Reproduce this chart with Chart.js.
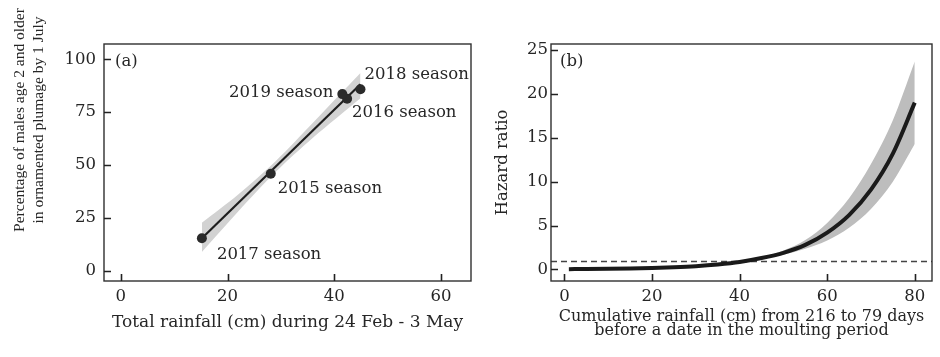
<!DOCTYPE html>
<html>
<head>
<meta charset="utf-8">
<title>Rainfall and ornamented plumage</title>
<script src="https://cdn.jsdelivr.net/npm/chart.js@4/dist/chart.umd.min.js"></script>
<style>
  html, body { margin: 0; padding: 0; background: #ffffff; }
  #wrap { position: relative; width: 940px; height: 357px; overflow: hidden; }
  #chartA { position: absolute; left: 0; top: 0; }
  #chartB { position: absolute; left: 480px; top: 0; }
</style>
</head>
<body>
<div id="wrap">
  <canvas id="chartA" width="500" height="357"></canvas>
  <canvas id="chartB" width="460" height="357"></canvas>
</div>
<script>
// ---- Panel (a): season rainfall vs. percentage of males in ornamented plumage ----
const seasonLabels     = ['2015 season', '2016 season', '2017 season', '2018 season', '2019 season'];
const seasonRainfall   = [28.1, 42.4, 15.2, 44.9, 41.5];
const seasonOrnamented = [45.8, 81.3, 15.3, 85.8, 83.5];

// fitted regression line and its confidence band
const fitRainfall   = [15.2, 44.9];
const fitOrnamented = [15.3, 88.2];
const bandRainfall  = [15.2, 22, 29, 36, 44.9];
const bandUpper     = [22.6, 36.0, 51.8, 70.0, 93.5];
const bandLower     = [8.8, 28.0, 46.6, 62.8, 81.5];

const ticksAx = [0, 20, 40, 60];
const ticksAy = [0, 25, 50, 75, 100];

// ---- Panel (b): hazard ratio vs. cumulative rainfall ----
const cumRainfall = [1, 5, 10, 15, 20, 25, 30, 35, 40, 45, 50, 55, 60, 65, 70, 75, 80];
const hazardRatio = [0.04, 0.05, 0.08, 0.12, 0.18, 0.26, 0.38, 0.57, 0.85, 1.3, 1.9, 2.8, 4.2, 6.2, 9.1, 13.2, 19.0];
const hazardUpper = [0.05, 0.06, 0.09, 0.13, 0.20, 0.28, 0.40, 0.60, 0.88, 1.38, 2.15, 3.35, 5.3, 8.1, 12.0, 17.0, 23.7];
const hazardLower = [0.03, 0.04, 0.07, 0.11, 0.16, 0.24, 0.36, 0.54, 0.82, 1.22, 1.68, 2.35, 3.3, 4.75, 6.9, 10.0, 14.3];
const referenceHR = 1;

const ticksBx = [0, 20, 40, 60, 80];
const ticksBy = [0, 5, 10, 15, 20, 25];

// ---- styling ----
const SERIF = '"DejaVu Serif", serif';
const INK = '#262626';
const tickFont = { family: SERIF, size: 16.5 };

const pts = (xs, ys) => xs.map((x, i) => ({ x, y: ys[i] }));

// season label placement relative to its point, in pixels
const seasonLabelOffset = {
  '2015 season': { dx: 7,  dy: 15,  align: 'left' },
  '2016 season': { dx: 5,  dy: 14,  align: 'left' },
  '2017 season': { dx: 15, dy: 16,  align: 'left' },
  '2018 season': { dx: 4,  dy: -15, align: 'left' },
  '2019 season': { dx: -9, dy: -1,  align: 'right' }
};

// frame around the plot area and inward tick marks
function framePlugin(id, xTicks, yTicks) {
  return {
    id,
    afterDraw(chart) {
      const { ctx, chartArea: a, scales } = chart;
      ctx.save();
      ctx.strokeStyle = '#303030';
      ctx.lineWidth = 1.4;
      ctx.strokeRect(a.left, a.top, a.right - a.left, a.bottom - a.top);
      ctx.lineWidth = 1.6;
      ctx.strokeStyle = '#222';
      ctx.beginPath();
      xTicks.forEach(v => {
        const px = Math.round(scales.x.getPixelForValue(v)) + 0.5;
        ctx.moveTo(px, a.bottom);
        ctx.lineTo(px, a.bottom - 7);
      });
      yTicks.forEach(v => {
        const py = Math.round(scales.y.getPixelForValue(v)) + 0.5;
        ctx.moveTo(a.left, py);
        ctx.lineTo(a.left + 7, py);
      });
      ctx.stroke();
      ctx.restore();
    }
  };
}

function textPlugin(id, draw) {
  return { id, afterDraw(chart) { const c = chart.ctx; c.save(); draw(chart, c); c.restore(); } };
}

function axisX(min, max, ticks, pad, height) {
  return {
    type: 'linear', min, max,
    afterBuildTicks: s => { s.ticks = ticks.map(v => ({ value: v })); },
    afterFit: s => { s.height = height; },
    grid: { display: false, drawTicks: false },
    border: { display: false },
    ticks: { font: tickFont, color: INK, padding: pad, maxRotation: 0, autoSkip: false }
  };
}
function axisY(min, max, ticks, pad, width) {
  return {
    type: 'linear', min, max,
    afterBuildTicks: s => { s.ticks = ticks.map(v => ({ value: v })); },
    afterFit: s => { s.width = width; },
    grid: { display: false, drawTicks: false },
    border: { display: false },
    ticks: { font: tickFont, color: INK, padding: pad, autoSkip: false }
  };
}

// ---------------- Chart (a) ----------------
new Chart(document.getElementById('chartA'), {
  type: 'line',
  data: {
    datasets: [
      {
        data: pts(seasonRainfall, seasonOrnamented),
        showLine: false, pointRadius: 5, pointHoverRadius: 5,
        pointBackgroundColor: '#2a2a2a', pointBorderColor: '#2a2a2a', pointBorderWidth: 0,
        order: 0
      },
      {
        data: pts(fitRainfall, fitOrnamented),
        borderColor: '#1e1e1e', borderWidth: 2.2, pointRadius: 0, fill: false,
        order: 1
      },
      {
        data: pts(bandRainfall, bandUpper),
        borderWidth: 0, pointRadius: 0, tension: 0.3,
        backgroundColor: '#d2d2d2', fill: { target: 3 },
        order: 2
      },
      {
        data: pts(bandRainfall, bandLower),
        borderWidth: 0, pointRadius: 0, tension: 0.3, fill: false,
        order: 3
      }
    ]
  },
  options: {
    responsive: false, animation: false, events: [],
    layout: { padding: { left: 0, top: 44, right: 29, bottom: 0 } },
    plugins: { legend: { display: false }, tooltip: { enabled: false } },
    scales: {
      x: axisX(-3.13, 65.6, ticksAx, 6, 76),
      y: axisY(-4.9, 107.2, ticksAy, 8, 104)
    }
  },
  plugins: [
    framePlugin('frameA', ticksAx, ticksAy),
    textPlugin('textA', (chart, ctx) => {
      const { x, y } = chart.scales;
      const a = chart.chartArea;
      ctx.fillStyle = INK;
      ctx.font = '16.5px ' + SERIF;
      ctx.textBaseline = 'middle';
      seasonLabels.forEach((lab, i) => {
        const o = seasonLabelOffset[lab];
        ctx.textAlign = o.align;
        ctx.fillText(lab, x.getPixelForValue(seasonRainfall[i]) + o.dx,
                          y.getPixelForValue(seasonOrnamented[i]) + o.dy);
      });
      ctx.textAlign = 'left';
      ctx.fillText('(a)', a.left + 11, a.top + 18);
      // x-axis title
      ctx.textAlign = 'center';
      ctx.font = '17px ' + SERIF;
      ctx.fillText('Total rainfall (cm) during 24 Feb - 3 May', (a.left + a.right) / 2, 323);
      // y-axis title (two lines)
      ctx.font = '15.5px "Liberation Serif", serif';
      ctx.translate(0, 120);
      ctx.rotate(-Math.PI / 2);
      ctx.fillText('Percentage of males age 2 and older', 0, 20);
      ctx.fillText('in ornamented plumage by 1 July', 0, 39);
    })
  ]
});

// ---------------- Chart (b) ----------------
new Chart(document.getElementById('chartB'), {
  type: 'line',
  data: {
    datasets: [
      {
        data: pts(cumRainfall, hazardRatio),
        borderColor: '#1a1a1a', borderWidth: 4, pointRadius: 0,
        cubicInterpolationMode: 'monotone', fill: false, borderCapStyle: 'butt',
        order: 0
      },
      {
        data: pts(cumRainfall, hazardUpper),
        borderWidth: 0, pointRadius: 0, cubicInterpolationMode: 'monotone',
        backgroundColor: '#bdbdbd', fill: { target: 2 },
        order: 1
      },
      {
        data: pts(cumRainfall, hazardLower),
        borderWidth: 0, pointRadius: 0, cubicInterpolationMode: 'monotone', fill: false,
        order: 2
      }
    ]
  },
  options: {
    responsive: false, animation: false, events: [],
    layout: { padding: { left: 0, top: 44, right: 8, bottom: 0 } },
    plugins: { legend: { display: false }, tooltip: { enabled: false } },
    scales: {
      x: axisX(-3.08, 83.94, ticksBx, 6, 76),
      y: axisY(-1.31, 25.68, ticksBy, 3, 71)
    }
  },
  plugins: [
    {
      // dashed reference line at hazard ratio = 1
      id: 'refLine',
      beforeDatasetsDraw(chart) {
        const { ctx, chartArea: a, scales } = chart;
        const py = Math.round(scales.y.getPixelForValue(referenceHR)) + 0.5;
        ctx.save();
        ctx.strokeStyle = '#444';
        ctx.lineWidth = 1.3;
        ctx.setLineDash([6, 4]);
        ctx.beginPath();
        ctx.moveTo(a.left, py);
        ctx.lineTo(a.right, py);
        ctx.stroke();
        ctx.restore();
      }
    },
    framePlugin('frameB', ticksBx, ticksBy),
    textPlugin('textB', (chart, ctx) => {
      const a = chart.chartArea;
      ctx.fillStyle = INK;
      ctx.font = '16.5px ' + SERIF;
      ctx.textBaseline = 'middle';
      ctx.textAlign = 'left';
      ctx.fillText('(b)', a.left + 9, a.top + 18);
      ctx.textAlign = 'center';
      ctx.textBaseline = 'alphabetic';
      ctx.font = '16px ' + SERIF;
      const cx = (a.left + a.right) / 2;
      ctx.fillText('Cumulative rainfall (cm) from 216 to 79 days', cx, 320.5);
      ctx.fillText('before a date in the moulting period', cx, 335);
      ctx.textBaseline = 'middle';
      ctx.font = '16.5px ' + SERIF;
      ctx.translate(23, (a.top + a.bottom) / 2);
      ctx.rotate(-Math.PI / 2);
      ctx.fillText('Hazard ratio', 0, 0);
    })
  ]
});
</script>
</body>
</html>
